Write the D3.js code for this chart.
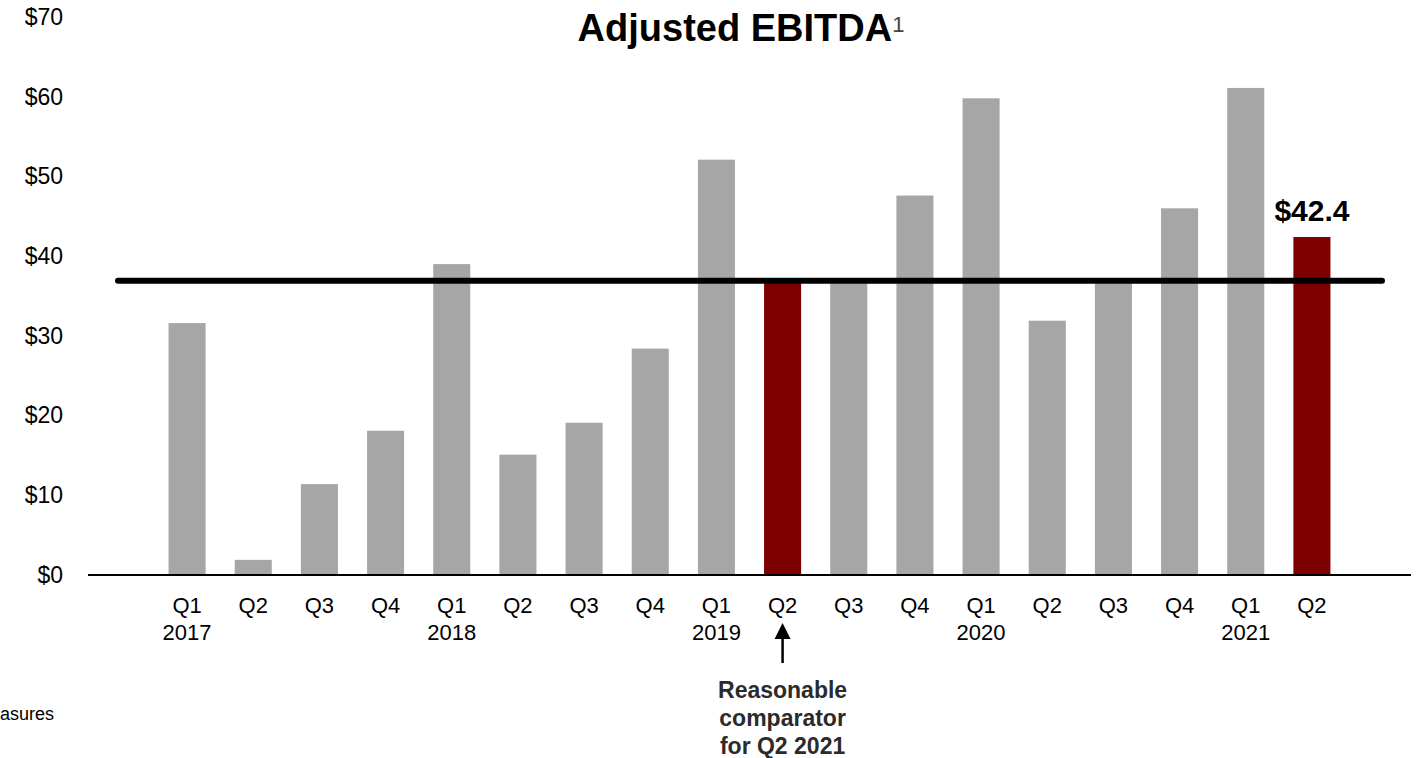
<!DOCTYPE html>
<html>
<head>
<meta charset="utf-8">
<script src="https://cdn.jsdelivr.net/npm/d3@7"></script>
<style>
  html, body { margin: 0; padding: 0; background: #fff; }
  svg { display: block; font-family: Arial, "Liberation Sans", sans-serif; }
</style>
</head>
<body>
<svg id="chart" width="1417" height="758"></svg>
<script>
// Quarterly Adjusted EBITDA, $ millions
const quarters = ["Q1", "Q2", "Q3", "Q4", "Q1", "Q2", "Q3", "Q4", "Q1", "Q2", "Q3", "Q4", "Q1", "Q2", "Q3", "Q4", "Q1", "Q2"];
const years = ["2017", "", "", "", "2018", "", "", "", "2019", "", "", "", "2020", "", "", "", "2021", ""];
const ebitda = [31.6, 1.9, 11.4, 18.1, 39.0, 15.1, 19.1, 28.4, 52.1, 36.7, 36.7, 47.6, 59.8, 31.9, 36.7, 46.0, 61.1, 42.4];
const highlighted = [false, false, false, false, false, false, false, false, false, true, false, false, false, false, false, false, false, true];
const referenceLevel = 36.9;
const yTicks = [0, 10, 20, 30, 40, 50, 60, 70];
const labelledIndex = 17;
const comparatorIndex = 9;
const comparatorNote = ["Reasonable", "comparator", "for Q2 2021"];

const svg = d3.select("#chart");
const keys = quarters.map((q, i) => i);

const x = d3.scaleBand()
  .domain(keys)
  .range([154, 1345])
  .paddingInner(0.44)
  .paddingOuter(0.22);

const y = d3.scaleLinear().domain([0, 70]).range([575, 17]);

// y-axis labels (no axis line)
const yAxis = d3.axisLeft(y)
  .tickValues(yTicks)
  .tickSize(0)
  .tickPadding(0)
  .tickFormat(d => "$" + d);
const yg = svg.append("g").attr("transform", "translate(63,0)").call(yAxis);
yg.select(".domain").remove();
yg.selectAll("text")
  .attr("font-size", 23)
  .attr("font-family", "Arial, 'Liberation Sans', sans-serif")
  .attr("fill", "#000");

// bars
svg.append("g").selectAll("rect")
  .data(keys)
  .join("rect")
  .attr("x", i => x(i))
  .attr("width", x.bandwidth())
  .attr("y", i => y(ebitda[i]))
  .attr("height", i => y(0) - y(ebitda[i]))
  .attr("fill", i => highlighted[i] ? "#7F0000" : "#A6A6A6");

// baseline
svg.append("line")
  .attr("x1", 88).attr("x2", 1411)
  .attr("y1", y(0)).attr("y2", y(0))
  .attr("stroke", "#000").attr("stroke-width", 2);

// x-axis labels: quarter and year
const xAxis = d3.axisBottom(x).tickSize(0).tickPadding(0).tickFormat(i => quarters[i]);
const xg = svg.append("g").call(xAxis);
xg.select(".domain").remove();
xg.selectAll(".tick").attr("transform", i => `translate(${x(i) + x.bandwidth() / 2},0)`);
xg.selectAll(".tick text")
  .attr("y", 613).attr("dy", null)
  .attr("font-size", 22)
  .attr("font-family", "Arial, 'Liberation Sans', sans-serif")
  .attr("fill", "#000");
xg.selectAll(".tick").append("text")
  .attr("y", 640)
  .attr("text-anchor", "middle")
  .attr("font-size", 22)
  .attr("fill", "#000")
  .text(i => years[i]);

// reference level line
svg.append("line")
  .attr("x1", 118).attr("x2", 1382)
  .attr("y1", y(referenceLevel)).attr("y2", y(referenceLevel))
  .attr("stroke", "#000").attr("stroke-width", 6)
  .attr("stroke-linecap", "round");

// value label on latest quarter
svg.append("text")
  .attr("x", x(labelledIndex) + x.bandwidth() / 2)
  .attr("y", y(ebitda[labelledIndex]) - 16)
  .attr("text-anchor", "middle")
  .attr("font-size", 30)
  .attr("font-weight", "bold")
  .attr("fill", "#000")
  .text("$" + ebitda[labelledIndex].toFixed(1));

// title
const title = svg.append("text")
  .attr("x", 741).attr("y", 41)
  .attr("text-anchor", "middle")
  .attr("font-size", 38)
  .attr("font-weight", "bold")
  .attr("fill", "#000");
title.append("tspan").text("Adjusted EBITDA");
title.append("tspan")
  .attr("font-size", 22).attr("font-weight", "normal")
  .attr("fill", "#444")
  .attr("dy", -9).attr("dx", 0)
  .text("1");

// comparator arrow and note
const cx = x(comparatorIndex) + x.bandwidth() / 2;
svg.append("line")
  .attr("x1", cx).attr("x2", cx)
  .attr("y1", 636).attr("y2", 663)
  .attr("stroke", "#000").attr("stroke-width", 2.5);
svg.append("path")
  .attr("d", `M${cx},623 L${cx - 8},639 L${cx + 8},639 Z`)
  .attr("fill", "#000");
svg.append("g").selectAll("text")
  .data(comparatorNote)
  .join("text")
  .attr("x", cx)
  .attr("y", (d, i) => 698 + i * 28)
  .attr("text-anchor", "middle")
  .attr("font-size", 23)
  .attr("font-weight", "bold")
  .attr("fill", "#2b2b2b")
  .text(d => d);

// footnote fragment at the left edge
svg.append("text")
  .attr("x", 0).attr("y", 720)
  .attr("font-size", 18)
  .attr("fill", "#000")
  .text("asures");
</script>
</body>
</html>
